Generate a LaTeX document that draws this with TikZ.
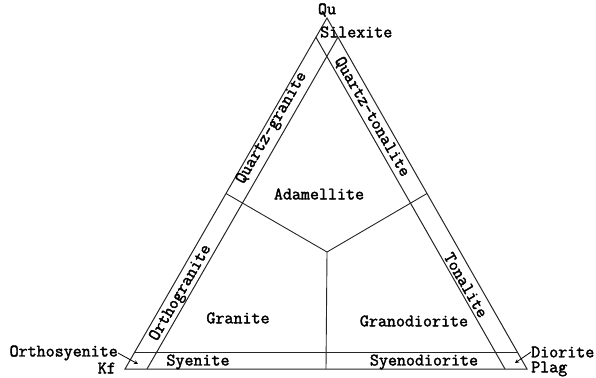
\documentclass[tikz,border=0pt]{standalone}
\usepackage{fontspec}
\newfontfamily\twfont{Latin Modern Mono}[FakeBold=2]
\usetikzlibrary{calc,arrows.meta}
\tikzset{
  side/.style={line width=1pt,black!85},
  divl/.style={line width=0.9pt,black!85},
  lbl/.style={font=\twfont\fontsize{17.5}{18}\selectfont,inner sep=0pt},
  lead/.style={-{Stealth[length=4pt,width=4pt]},line width=0.8pt},
}
\begin{document}
\begin{tikzpicture}[x=1pt,y=-1pt]
  \useasboundingbox (0,0) rectangle (596,377);
  % corners of the triangle
  \coordinate (Kf) at (125,369);
  \coordinate (Qu) at (327,18);
  \coordinate (Pl) at (527,369);
  \coordinate (cen) at (327,252);
  \draw[side] (Kf) -- (Qu) -- (Pl) -- cycle;
  % inner lines, parallel to the sides
  \draw[side] (134.8,352) -- (517.3,352);
  \draw[side] (147,369) -- (337.9,37.2);
  \draw[side] (505,369) -- (315.9,37.2);
  % fields meet at the centre
  \draw[divl] (cen) -- ($(Kf)!0.5!(Qu)$);
  \draw[divl] (cen) -- ($(Pl)!0.5!(Qu)$);
  \draw[divl] (cen) -- ($(Kf)!0.5!(Pl)$);
  % names
  \node[lbl] (qu) at (327,10) {Qu};
  \node[lbl,anchor=west] (silex) at (320,32) {Silexite};
  \node[lbl,rotate=60] (qgran) at (272,128) {Quartz-granite};
  \node[lbl,rotate=-60] (qton) at (372,117) {Quartz-tonalite};
  \node[lbl,rotate=60] (ogran) at (181,293) {Orthogranite};
  \node[lbl,rotate=-60] (ton) at (466,285) {Tonalite};
  \node[lbl] (adam) at (319,194) {Adamellite};
  \node[lbl] (gran) at (238,318) {Granite};
  \node[lbl] (grdi) at (414,321) {Granodiorite};
  \node[lbl] (sye) at (198,362) {Syenite};
  \node[lbl] (syedi) at (424,362) {Syenodiorite};
  \node[lbl,anchor=east] (osye) at (118,353) {Orthosyenite};
  \node[lbl,anchor=east] (kf) at (116,368) {Kf};
  \node[lbl,anchor=west] (dior) at (531,352) {Diorite};
  \node[lbl,anchor=west] (plag) at (531,369) {Plag};
  \coordinate (osyept) at (138,364);
  \coordinate (diorpt) at (515,363);
  \draw[lead] (osye.east) -- (osyept);
  \draw[lead] (dior.west) -- (diorpt);
\end{tikzpicture}
\end{document}
